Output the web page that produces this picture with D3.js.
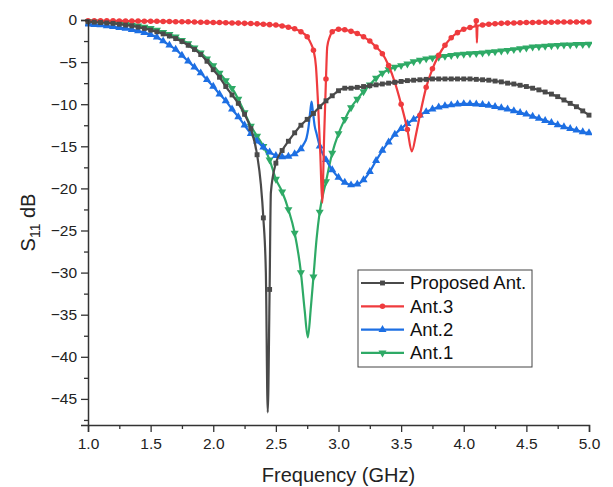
<!DOCTYPE html>
<html>
<head>
<meta charset="utf-8">
<script src="https://cdn.jsdelivr.net/npm/d3@7.9.0/dist/d3.min.js"></script>
<style>
  body { margin: 0; background: #fff; }
  svg { font-family: "Liberation Sans", Arial, sans-serif; }
</style>
</head>
<body>
<svg id="chart" width="613" height="487"></svg>
<script>
// ---------------------------------------------------------------------------
// Data: [frequency GHz, S11 dB]
// ---------------------------------------------------------------------------
const proposedAnt = [
  [1.00,-0.2],[1.05,-0.25],[1.10,-0.3],[1.15,-0.35],[1.20,-0.4],[1.25,-0.5],[1.30,-0.6],[1.35,-0.7],
  [1.40,-0.85],[1.45,-1.0],[1.50,-1.2],[1.55,-1.4],[1.60,-1.65],[1.65,-1.9],[1.70,-2.2],[1.75,-2.55],
  [1.80,-3.0],[1.85,-3.5],[1.90,-4.1],[1.95,-4.9],[2.00,-5.9],[2.05,-6.8],[2.10,-7.9],[2.15,-8.9],
  [2.20,-9.9],[2.25,-11.2],[2.30,-12.9],[2.35,-16.0],[2.38,-19.5],[2.40,-23.5],[2.42,-30],[2.435,-46.6],
  [2.45,-32],[2.46,-20.5],[2.50,-17.0],[2.55,-15.5],[2.60,-14.4],[2.65,-13.4],[2.70,-12.5],[2.75,-11.8],
  [2.80,-11.1],[2.85,-10.3],[2.90,-9.6],[2.95,-9.0],[3.00,-8.4],[3.05,-8.1],[3.10,-8.1],[3.15,-8.0],
  [3.20,-7.9],[3.25,-7.8],[3.30,-7.7],[3.35,-7.6],[3.40,-7.5],[3.45,-7.4],[3.50,-7.3],[3.55,-7.2],
  [3.60,-7.15],[3.65,-7.1],[3.70,-7.05],[3.75,-7.0],[3.80,-7.0],[3.85,-7.0],[3.90,-7.0],[3.95,-7.0],
  [4.00,-7.0],[4.05,-7.0],[4.10,-7.05],[4.15,-7.1],[4.20,-7.15],[4.25,-7.25],[4.30,-7.35],[4.35,-7.5],
  [4.40,-7.6],[4.45,-7.75],[4.50,-7.9],[4.55,-8.1],[4.60,-8.3],[4.65,-8.55],[4.70,-8.8],[4.75,-9.1],
  [4.80,-9.5],[4.85,-9.9],[4.90,-10.3],[4.95,-10.8],[5.00,-11.3]
];

const ant3 = [
  [1.00,-0.1],[1.05,-0.1],[1.10,-0.1],[1.15,-0.1],[1.20,-0.1],[1.25,-0.11],[1.30,-0.12],[1.35,-0.12],
  [1.40,-0.13],[1.45,-0.14],[1.50,-0.15],[1.55,-0.16],[1.60,-0.17],[1.65,-0.18],[1.70,-0.2],[1.75,-0.21],
  [1.80,-0.22],[1.85,-0.25],[1.90,-0.27],[1.95,-0.28],[2.00,-0.3],[2.05,-0.31],[2.10,-0.33],[2.15,-0.35],
  [2.20,-0.37],[2.25,-0.4],[2.30,-0.42],[2.35,-0.46],[2.40,-0.5],[2.45,-0.55],[2.50,-0.6],[2.55,-0.7],
  [2.60,-0.85],[2.65,-1.05],[2.70,-1.4],[2.75,-2.0],[2.78,-2.8],[2.80,-3.6],[2.82,-5.5],[2.835,-9.4],
  [2.855,-16],[2.87,-21.7],[2.885,-14],[2.90,-7],[2.91,-3.2],[2.93,-2.0],[2.95,-1.4],[3.00,-1.1],
  [3.05,-1.15],[3.10,-1.35],[3.15,-1.6],[3.20,-2.0],[3.25,-2.5],[3.30,-3.2],[3.35,-4.0],[3.40,-5.4],
  [3.45,-7.4],[3.50,-10.0],[3.55,-13.0],[3.585,-15.6],[3.62,-13.5],[3.65,-11.3],[3.70,-8.0],[3.75,-5.8],
  [3.80,-4.2],[3.85,-3.0],[3.90,-2.1],[3.95,-1.5],[4.00,-1.1],[4.05,-0.9],[4.09,-0.75],[4.10,-0.1],
  [4.105,-2.7],[4.11,-0.7],[4.15,-0.6],[4.20,-0.5],[4.25,-0.45],[4.30,-0.4],[4.35,-0.37],[4.40,-0.35],
  [4.45,-0.32],[4.50,-0.3],[4.55,-0.29],[4.60,-0.28],[4.65,-0.27],[4.70,-0.26],[4.75,-0.25],[4.80,-0.25],
  [4.85,-0.24],[4.90,-0.24],[4.95,-0.24],[5.00,-0.24]
];

const ant2 = [
  [1.00,-0.5],[1.05,-0.55],[1.10,-0.6],[1.15,-0.7],[1.20,-0.8],[1.25,-0.9],[1.30,-1.0],[1.35,-1.15],
  [1.40,-1.3],[1.45,-1.5],[1.50,-1.75],[1.55,-2.05],[1.60,-2.5],[1.65,-3.0],[1.70,-3.5],[1.75,-4.2],
  [1.80,-4.9],[1.85,-5.6],[1.90,-6.3],[1.95,-7.1],[2.00,-7.9],[2.05,-8.8],[2.10,-9.6],[2.15,-10.6],
  [2.20,-11.5],[2.25,-12.5],[2.30,-13.5],[2.35,-14.4],[2.40,-15.1],[2.45,-15.7],[2.50,-16.1],[2.55,-16.25],
  [2.60,-16.2],[2.65,-15.9],[2.70,-15.3],[2.72,-14.8],[2.745,-14.0],[2.76,-12.8],[2.775,-10.8],[2.785,-9.7],
  [2.795,-10.8],[2.81,-12.6],[2.825,-13.5],[2.85,-15.0],[2.90,-16.6],[2.95,-17.8],[3.00,-18.7],[3.05,-19.3],
  [3.10,-19.6],[3.15,-19.5],[3.20,-19.0],[3.25,-18.0],[3.30,-16.7],[3.35,-15.5],[3.40,-14.5],[3.45,-13.6],
  [3.50,-12.9],[3.55,-12.3],[3.60,-11.8],[3.65,-11.3],[3.70,-10.9],[3.75,-10.6],[3.80,-10.35],[3.85,-10.2],
  [3.90,-10.1],[3.95,-10.0],[4.00,-9.95],[4.05,-9.95],[4.10,-10.0],[4.15,-10.05],[4.20,-10.15],[4.25,-10.3],
  [4.30,-10.45],[4.35,-10.6],[4.40,-10.8],[4.45,-11.0],[4.50,-11.2],[4.55,-11.45],[4.60,-11.7],[4.65,-11.95],
  [4.70,-12.2],[4.75,-12.45],[4.80,-12.7],[4.85,-12.9],[4.90,-13.1],[4.95,-13.3],[5.00,-13.4]
];

const ant1 = [
  [1.00,-0.2],[1.05,-0.22],[1.10,-0.25],[1.15,-0.3],[1.20,-0.35],[1.25,-0.4],[1.30,-0.5],[1.35,-0.6],
  [1.40,-0.7],[1.45,-0.85],[1.50,-1.0],[1.55,-1.2],[1.60,-1.45],[1.65,-1.7],[1.70,-2.0],[1.75,-2.4],
  [1.80,-2.8],[1.85,-3.3],[1.90,-3.9],[1.95,-4.6],[2.00,-5.4],[2.05,-6.3],[2.10,-7.2],[2.15,-8.1],
  [2.20,-9.4],[2.25,-11.0],[2.30,-12.6],[2.35,-13.8],[2.40,-15.0],[2.45,-16.6],[2.50,-18.9],[2.55,-20.4],
  [2.60,-22.5],[2.65,-25.3],[2.70,-30],[2.73,-34.5],[2.755,-37.7],[2.78,-34],[2.80,-30.5],[2.825,-26],
  [2.85,-22.8],[2.90,-19.2],[2.95,-15.8],[3.00,-13.5],[3.05,-11.8],[3.10,-10.4],[3.15,-9.4],[3.20,-8.5],
  [3.25,-7.7],[3.30,-6.9],[3.35,-6.3],[3.40,-5.9],[3.45,-5.6],[3.50,-5.4],[3.55,-5.2],[3.60,-4.95],
  [3.65,-4.75],[3.70,-4.6],[3.75,-4.5],[3.80,-4.4],[3.85,-4.3],[3.90,-4.2],[3.95,-4.1],[4.00,-4.05],
  [4.05,-4.0],[4.10,-3.95],[4.15,-3.9],[4.20,-3.8],[4.25,-3.75],[4.30,-3.65],[4.35,-3.6],[4.40,-3.5],
  [4.45,-3.4],[4.50,-3.3],[4.55,-3.2],[4.60,-3.15],[4.65,-3.1],[4.70,-3.05],[4.75,-3.0],[4.80,-2.95],
  [4.85,-2.95],[4.90,-2.9],[4.95,-2.9],[5.00,-2.85]
];

const seriesNames = ['Proposed Ant.', 'Ant.3', 'Ant.2', 'Ant.1'];
const xTicks = [1.0, 1.5, 2.0, 2.5, 3.0, 3.5, 4.0, 4.5, 5.0];
const yTicks = [0, -5, -10, -15, -20, -25, -30, -35, -40, -45];

// ---------------------------------------------------------------------------
// Layout
// ---------------------------------------------------------------------------
const W = 613, H = 487;
const margin = { top: 20, right: 24, bottom: 62, left: 88 };
const innerW = W - margin.left - margin.right;
const innerH = H - margin.top - margin.bottom;

const x = d3.scaleLinear().domain([1, 5]).range([0, innerW]);
const y = d3.scaleLinear().domain([-48.1, 0]).range([innerH, 0]);

const svg = d3.select('#chart');
const g = svg.append('g').attr('transform', `translate(${margin.left},${margin.top})`);

svg.append('defs').append('clipPath').attr('id', 'plotclip')
  .append('rect').attr('x', -3).attr('y', -4).attr('width', innerW + 6).attr('height', innerH + 6);

const styles = [
  { data: proposedAnt, color: '#4a4a4a', symbol: d3.symbolSquare,   size: 24, rot: 0 },
  { data: ant3,        color: '#ef3b3e', symbol: d3.symbolCircle,   size: 24, rot: 0 },
  { data: ant2,        color: '#1d6fe3', symbol: d3.symbolTriangle, size: 28, rot: 0 },
  { data: ant1,        color: '#2eaa66', symbol: d3.symbolTriangle, size: 28, rot: 180 }
];

const line = d3.line()
  .x(d => x(d[0]))
  .y(d => y(d[1]))
  .curve(d3.curveMonotoneX);

// draw in reverse so the proposed curve sits on top
const plot = g.append('g').attr('clip-path', 'url(#plotclip)');
styles.slice().reverse().forEach(s => {
  const sg = plot.append('g');
  sg.append('path')
    .datum(s.data)
    .attr('fill', 'none')
    .attr('stroke', s.color)
    .attr('stroke-width', 2.2)
    .attr('stroke-linejoin', 'round')
    .attr('d', line);

  // marker on every 0.05 GHz sample
  const marked = s.data.filter(d => Math.abs(d[0] * 20 - Math.round(d[0] * 20)) < 1e-6);
  sg.selectAll('path.m')
    .data(marked)
    .join('path')
    .attr('class', 'm')
    .attr('d', d3.symbol().type(s.symbol).size(s.size))
    .attr('fill', s.color)
    .attr('transform', d => `translate(${x(d[0])},${y(d[1])}) rotate(${s.rot})`);
});

// ---------------------------------------------------------------------------
// Axes
// ---------------------------------------------------------------------------
const axisColor = '#333';
const fmtY = d => (d < 0 ? '\u2212' + Math.abs(d) : '' + d);

const xAxis = g.append('g').attr('transform', `translate(0,${innerH})`)
  .call(d3.axisBottom(x).tickValues(xTicks).tickFormat(d3.format('.1f')).tickSize(7).tickPadding(6));
const xMinor = g.append('g').attr('transform', `translate(0,${innerH})`)
  .call(d3.axisBottom(x).tickValues(d3.range(1.25, 5, 0.5)).tickFormat('').tickSize(4));

const yAxis = g.append('g')
  .call(d3.axisLeft(y).tickValues(yTicks).tickFormat(fmtY).tickSize(7).tickPadding(4));
const yMinor = g.append('g')
  .call(d3.axisLeft(y).tickValues(d3.range(-2.5, -48, -5)).tickFormat('').tickSize(4));

[xAxis, xMinor, yAxis, yMinor].forEach(a => {
  a.selectAll('.domain').attr('stroke', axisColor).attr('stroke-width', 1.5);
  a.selectAll('.tick line').attr('stroke', axisColor).attr('stroke-width', 1.3);
  a.selectAll('text').attr('fill', '#222').style('font-size', '15.5px');
});
xMinor.select('.domain').remove();
yMinor.select('.domain').remove();

// axis titles
svg.append('text')
  .attr('x', margin.left + innerW / 2)
  .attr('y', 482)
  .attr('text-anchor', 'middle')
  .style('font-size', '20px')
  .attr('fill', '#222')
  .text('Frequency (GHz)');

const yl = svg.append('text')
  .attr('transform', `translate(35,${margin.top + innerH / 2}) rotate(-90)`)
  .attr('text-anchor', 'middle')
  .style('font-size', '20px')
  .attr('fill', '#222');
yl.append('tspan').text('S');
yl.append('tspan').attr('dy', 5).style('font-size', '14px').text('11');
yl.append('tspan').attr('dy', -5).text(' dB');

// ---------------------------------------------------------------------------
// Legend
// ---------------------------------------------------------------------------
const legend = svg.append('g').attr('transform', 'translate(358,270)');
legend.append('rect')
  .attr('width', 174).attr('height', 97)
  .attr('fill', '#fff').attr('stroke', '#444').attr('stroke-width', 1);

seriesNames.forEach((name, i) => {
  const s = styles[i];
  const row = legend.append('g').attr('transform', `translate(0,${13 + i * 23.3})`);
  row.append('line')
    .attr('x1', 3).attr('x2', 46).attr('y1', 0).attr('y2', 0)
    .attr('stroke', s.color).attr('stroke-width', 2.2);
  row.append('path')
    .attr('d', d3.symbol().type(s.symbol).size(s.size))
    .attr('fill', s.color)
    .attr('transform', `translate(24.5,0) rotate(${s.rot})`);
  row.append('text')
    .attr('x', 52).attr('y', 0).attr('dy', '0.35em')
    .style('font-size', '18.5px')
    .attr('fill', '#111')
    .text(name);
});
</script>
</body>
</html>
